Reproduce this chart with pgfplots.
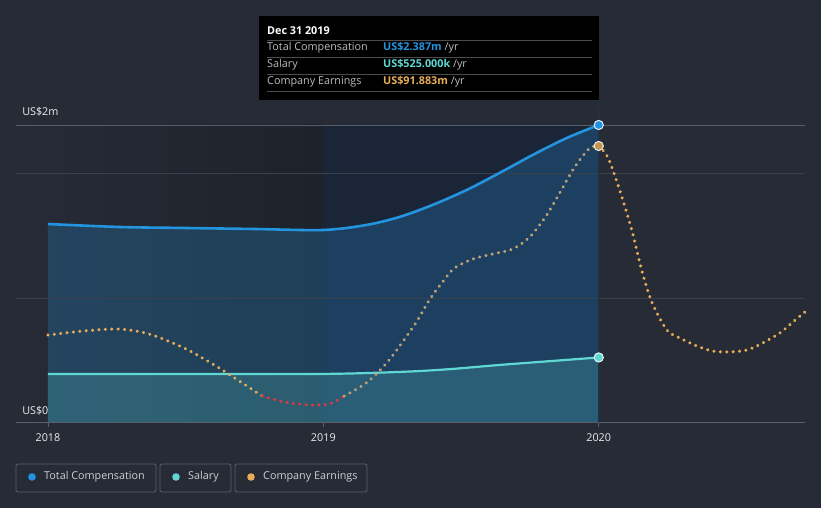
\documentclass[border=0pt]{standalone}
\usepackage{pgfplots}
\pgfplotsset{compat=1.18}
\usepackage{fontspec}
\setmainfont{Open Sans}
\definecolor{bgc}{HTML}{262B36}
\definecolor{leftreg}{HTML}{1E222A}
\definecolor{navy}{HTML}{1B2538}
\definecolor{tcblue}{HTML}{2394DF}
\definecolor{salteal}{HTML}{5FD8D3}
\definecolor{earnor}{HTML}{E8AD58}
\definecolor{earnmute}{HTML}{BFA175}
\definecolor{earnred}{HTML}{E0393E}
\definecolor{gridc}{HTML}{3A404C}
\definecolor{topgrid}{HTML}{575D69}
\definecolor{axisc}{HTML}{5A606B}
\definecolor{txt}{HTML}{ECECEC}
\definecolor{legtxt}{HTML}{CDD0D5}
\definecolor{tipgray}{HTML}{BDBDBD}
\definecolor{cursor}{HTML}{1E3350}
% x = years after 2018
\pgfplotsset{base/.style={at={(16pt,85pt)}, anchor=south west, scale only axis,
  width=789pt, height=298pt, xmin=-0.116, xmax=2.749, axis lines=none, clip=false}}
\tikzset{dots/.style={line width=3.4pt, line cap=round, dash pattern=on 0.01pt off 6.4pt}}
\newcommand{\fs}{\fontsize{10.8}{12}\selectfont}
\begin{document}
\begin{tikzpicture}
\useasboundingbox (0,0) rectangle (821pt,508pt);
\fill[bgc] (0,0) rectangle (821pt,508pt);
% ---- compensation axis
\begin{axis}[base, ymin=0, ymax=2.387]
\fill[left color=bgc, right color=leftreg, draw=none] (axis cs:-0.116,0) rectangle (axis cs:1,2.387);
\fill[navy] (axis cs:1,0) rectangle (axis cs:2,2.387);
\addplot[draw=none, fill=tcblue, fill opacity=0.25, smooth] coordinates {
(0.000,1.594) (0.260,1.570) (0.500,1.562) (0.750,1.554) (1.000,1.546)
(1.156,1.586) (1.276,1.650) (1.396,1.746) (1.520,1.866) (1.640,2.003)
(1.760,2.147) (1.884,2.283) (2.000,2.387)} \closedcycle;
\addplot[draw=none, fill=salteal, fill opacity=0.2, smooth] coordinates {
(0.000,0.393) (0.500,0.393) (1.000,0.393) (1.276,0.409) (1.450,0.430)
(1.640,0.465) (1.820,0.495) (2.000,0.525)} \closedcycle;
% grid
\draw[gridc, line width=0.8pt] (axis cs:-0.116,1) -- (axis cs:2.749,1);
\draw[gridc, line width=0.8pt] (axis cs:-0.116,2) -- (axis cs:2.749,2);
\draw[topgrid, line width=0.9pt] (axis cs:-0.116,2.387) -- (axis cs:2.749,2.387);
\draw[axisc, line width=1pt] (axis cs:-0.116,0) -- (axis cs:2.749,0);
\draw[axisc, line width=0.8pt] (axis cs:0,0) -- (axis cs:0,-0.036);
\draw[axisc, line width=0.8pt] (axis cs:1,0) -- (axis cs:1,-0.036);
\draw[axisc, line width=0.8pt] (axis cs:2,0) -- (axis cs:2,-0.036);
\draw[cursor, line width=1pt] (axis cs:2,0) -- (axis cs:2,2.587);
% lines
\addplot[tcblue, line width=2.6pt, smooth] coordinates {
(0.000,1.594) (0.260,1.570) (0.500,1.562) (0.750,1.554) (1.000,1.546)
(1.156,1.586) (1.276,1.650) (1.396,1.746) (1.520,1.866) (1.640,2.003)
(1.760,2.147) (1.884,2.283) (2.000,2.387)};
\addplot[salteal, line width=2.2pt, smooth] coordinates {
(0.000,0.393) (0.500,0.393) (1.000,0.393) (1.276,0.409) (1.450,0.430)
(1.640,0.465) (1.820,0.495) (2.000,0.525)};
% labels
\node[anchor=west, text=txt, font=\fs, inner sep=0] at (axis cs:-0.094,2.49) {US\$2m};
\node[anchor=west, text=txt, font=\fs, inner sep=0] at (axis cs:-0.094,0.096) {US\$0};
\node[text=txt, font=\fs, inner sep=0] at (axis cs:0,-0.116) {2018};
\node[text=txt, font=\fs, inner sep=0] at (axis cs:1,-0.116) {2019};
\node[text=txt, font=\fs, inner sep=0] at (axis cs:2,-0.116) {2020};
\end{axis}
% ---- earnings axis
\begin{axis}[base, ymin=-9.92, ymax=99.6]
\addplot[earnor, dots, smooth] coordinates {
(0.000,22.4) (0.131,23.9) (0.258,24.6) (0.367,22.8) (0.495,17.6)
(0.604,11.4) (0.695,5.5) (0.778,0)};
\addplot[earnred, dots, smooth] coordinates {
(0.778,0) (0.858,-2.2) (0.949,-3.3) (1.022,-2.9) (1.076,0)};
\addplot[earnmute, dots, smooth] coordinates {
(1.076,0) (1.160,5.1) (1.233,12.5) (1.287,19.8) (1.338,27.2)
(1.385,35.3) (1.433,41.9) (1.476,47.0) (1.542,50.3) (1.615,52.2)
(1.687,54.0) (1.749,58.4) (1.811,66.5) (1.858,74.6) (1.913,84.2)
(1.967,91.1) (2.000,91.883)};
\addplot[earnor, dots, smooth] coordinates {
(2.000,91.883) (2.033,87.8) (2.076,75.7) (2.120,61.0)
(2.156,46.3) (2.193,34.5) (2.247,24.3) (2.295,21.3) (2.356,18.4)
(2.415,16.5) (2.476,16.2) (2.538,16.9) (2.596,19.5) (2.658,23.2)
(2.705,27.2) (2.749,30.9)};
\addplot[only marks, mark=*, mark size=4.6pt, mark options={fill=earnor!85!black, draw=white!85!gray, line width=1pt}] coordinates {(2,91.883)};
\end{axis}
% ---- compensation markers
\begin{axis}[base, ymin=0, ymax=2.387]
\addplot[only marks, mark=*, mark size=4.6pt, mark options={fill=tcblue, draw=white!85!tcblue, line width=1pt}] coordinates {(2,2.387)};
\addplot[only marks, mark=*, mark size=4.6pt, mark options={fill=salteal, draw=white!85!salteal, line width=1pt}] coordinates {(2,0.525)};
\end{axis}
% ---- tooltip
\fill[black] (259pt,492pt) rectangle (599pt,408pt);
\foreach \yy in {468,451,434,417} {\draw[white!30!black, line width=0.8pt] (267pt,\yy pt) -- (592pt,\yy pt);}
\node[anchor=west, inner sep=0, text=white, font=\fs\bfseries] at (267pt,477pt) {Dec 31 2019};
\node[anchor=west, inner sep=0, text=tipgray, font=\fs] at (267pt,460pt) {Total Compensation};
\node[anchor=west, inner sep=0, text=tipgray, font=\fs] at (267pt,443pt) {Salary};
\node[anchor=west, inner sep=0, text=tipgray, font=\fs] at (267pt,426pt) {Company Earnings};
\node[anchor=west, inner sep=0, font=\fs] at (383pt,460pt) {\textcolor{tcblue}{\bfseries US\$2.387m} \textcolor{tipgray}{/yr}};
\node[anchor=west, inner sep=0, font=\fs] at (383pt,443pt) {\textcolor{salteal}{\bfseries US\$525.000k} \textcolor{tipgray}{/yr}};
\node[anchor=west, inner sep=0, font=\fs] at (383pt,426pt) {\textcolor{earnor}{\bfseries US\$91.883m} \textcolor{tipgray}{/yr}};
% ---- legend
\draw[axisc, line width=0.8pt, rounded corners=2pt] (16pt,16pt) rectangle (156pt,44pt);
\draw[axisc, line width=0.8pt, rounded corners=2pt] (160pt,16pt) rectangle (231pt,44pt);
\draw[axisc, line width=0.8pt, rounded corners=2pt] (235pt,16pt) rectangle (367pt,44pt);
\fill[tcblue] (32pt,31pt) circle (3.8pt);
\fill[salteal] (176pt,31pt) circle (3.8pt);
\fill[earnor] (251pt,31pt) circle (3.8pt);
\node[anchor=west, inner sep=0, text=legtxt, font=\fs] at (44pt,31pt) {Total Compensation};
\node[anchor=west, inner sep=0, text=legtxt, font=\fs] at (188pt,31pt) {Salary};
\node[anchor=west, inner sep=0, text=legtxt, font=\fs] at (263pt,31pt) {Company Earnings};
\end{tikzpicture}
\end{document}
